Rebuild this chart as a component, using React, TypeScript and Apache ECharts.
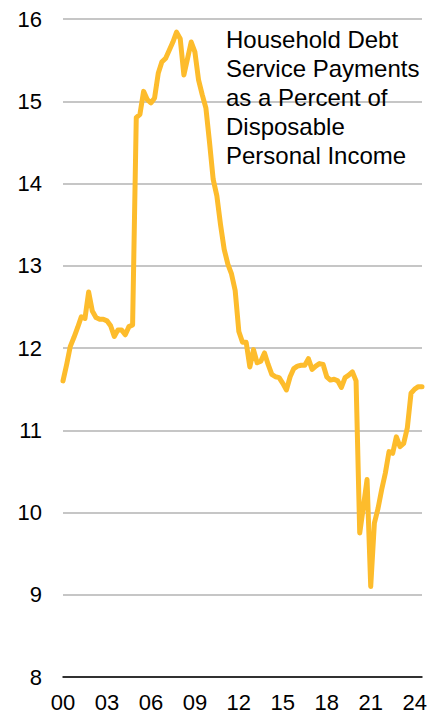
import React, { useEffect, useRef } from "react";
import * as echarts from "echarts";

const startYear = 2000;
const quarterCount = 99;
const categories: string[] = Array.from({ length: quarterCount }, (_, i) => {
  const y = startYear + Math.floor(i / 4);
  return `${y}Q${(i % 4) + 1}`;
});

const debtServiceRatio: number[] = [
  11.6, 11.8, 12.02, 12.13, 12.25, 12.38, 12.36, 12.68, 12.45, 12.37,
  12.35, 12.35, 12.33, 12.27, 12.14, 12.22, 12.22, 12.16, 12.26, 12.28,
  14.8, 14.84, 15.12, 15.02, 14.98, 15.04, 15.34, 15.48, 15.52, 15.62,
  15.72, 15.84, 15.76, 15.32, 15.52, 15.72, 15.6, 15.26, 15.08, 14.92,
  14.5, 14.05, 13.85, 13.5, 13.2, 13.02, 12.9, 12.7, 12.2, 12.07,
  12.07, 11.77, 11.98, 11.82, 11.84, 11.94, 11.8, 11.68, 11.65, 11.64,
  11.57, 11.49, 11.65, 11.75, 11.78, 11.79, 11.79, 11.87, 11.74, 11.78,
  11.81, 11.8, 11.65, 11.61, 11.62, 11.6, 11.52, 11.64, 11.67, 11.71,
  11.6, 9.75, 10.07, 10.4, 9.1, 9.87, 10.05, 10.28, 10.48, 10.74,
  10.72, 10.92, 10.8, 10.84, 11.03, 11.45, 11.5, 11.53, 11.53,
];

const titleLines: string[] = [
  "Household Debt",
  "Service Payments",
  "as a Percent of",
  "Disposable",
  "Personal Income",
];

const yMin = 8;
const yMax = 16;
const yInterval = 1;

export default function App() {
  const ref = useRef<HTMLDivElement>(null);
  useEffect(() => {
    if (!ref.current) return;
    const chart = echarts.init(ref.current, null, { renderer: "svg" });
    const font = "'Liberation Sans', Arial, sans-serif";
    chart.setOption({
      animation: false,
      backgroundColor: "#ffffff",
      grid: { left: 63, right: 9, top: 19, bottom: 40, containLabel: false },
      xAxis: {
        type: "category",
        data: categories,
        boundaryGap: false,
        axisLine: { show: true, lineStyle: { color: "#000000", width: 1.5 } },
        axisTick: { show: false },
        splitLine: { show: false },
        axisLabel: {
          interval: 11,
          color: "#000000",
          fontSize: 22,
          fontFamily: font,
          margin: 14,
          formatter: (v: string) => v.slice(2, 4),
        },
      },
      yAxis: {
        type: "value",
        min: yMin,
        max: yMax,
        interval: yInterval,
        axisLine: { show: false },
        axisTick: { show: false },
        splitLine: { show: true, lineStyle: { color: "#C6C6C6", width: 2 } },
        axisLabel: {
          color: "#000000",
          fontSize: 22,
          fontFamily: font,
          margin: 21,
        },
      },
      graphic: [
        {
          type: "text",
          left: 226,
          top: 25,
          z: 10,
          style: {
            text: titleLines.join("\n"),
            fill: "#000000",
            font: `24px ${font}`,
            lineHeight: 29,
            textAlign: "left",
            textVerticalAlign: "top",
          },
        },
      ],
      series: [
        {
          type: "line",
          data: debtServiceRatio,
          showSymbol: false,
          symbol: "none",
          lineStyle: { color: "#FDBC2C", width: 5, join: "round", cap: "round" },
          z: 5,
        },
      ],
    });
    return () => chart.dispose();
  }, []);
  return (
    <div
      ref={ref}
      style={{ position: "absolute", left: 0, top: 0, width: 431, height: 717 }}
    />
  );
}
